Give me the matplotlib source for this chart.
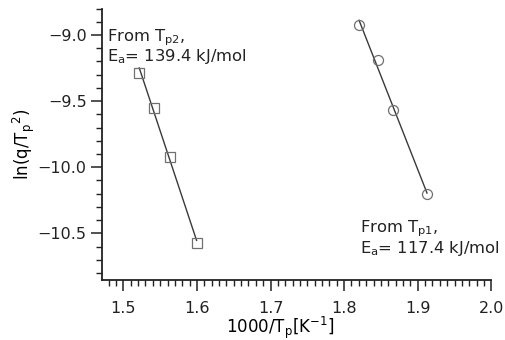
import numpy as np
import matplotlib
matplotlib.use("Agg")
import matplotlib.pyplot as plt
from matplotlib.ticker import MultipleLocator

plt.rcParams['font.family'] = ['DejaVu Sans']
plt.rcParams['mathtext.default'] = 'regular'

# Data
x_tp2 = [1.5216, 1.5415, 1.5635, 1.5995]
y_tp2 = [-9.286, -9.551, -9.922, -10.577]
x_tp1 = [1.8203, 1.8460, 1.8670, 1.9126]
y_tp1 = [-8.927, -9.190, -9.566, -10.205]
label_tp2 = ["From $\\mathregular{T_{p2}}$,", "$\\mathregular{E_a}$= 139.4 kJ/mol"]
label_tp1 = ["From $\\mathregular{T_{p1}}$,", "$\\mathregular{E_a}$= 117.4 kJ/mol"]
xticks = [1.5, 1.6, 1.7, 1.8, 1.9, 2.0]
yticks = [-9.0, -9.5, -10.0, -10.5]

fig = plt.figure(figsize=(5.06, 3.40), dpi=100)
ax = fig.add_axes([0.2016, 0.1765, 0.7694, 0.7985])

line_c = '#3a3a3a'
mk_c = '#707070'
for xs, ys, mk in [(x_tp2, y_tp2, 's'), (x_tp1, y_tp1, 'o')]:
    xs = np.array(xs); ys = np.array(ys)
    p = np.polyfit(xs, ys, 1)
    xl = np.array([xs.min(), xs.max()])
    ax.plot(xl, np.polyval(p, xl), color=line_c, lw=1.0, zorder=2)
    ax.plot(xs, ys, linestyle='none', marker=mk, markersize=7.2,
            markerfacecolor='none', markeredgecolor=mk_c, markeredgewidth=0.9, zorder=3)

ax.set_xlim(1.471, 2.0)
ax.set_ylim(-10.853, -8.8)
ax.set_xticks(xticks)
ax.set_xticklabels([f"{v:.1f}" for v in xticks])
ax.set_yticks(yticks)
ax.set_yticklabels([f"\u2212{abs(v):.1f}" for v in yticks])
ax.xaxis.set_minor_locator(MultipleLocator(0.01))
ax.yaxis.set_minor_locator(MultipleLocator(0.1))
for s in ['top', 'right']:
    ax.spines[s].set_visible(False)
for s in ['left', 'bottom']:
    ax.spines[s].set_linewidth(1.3)
    ax.spines[s].set_color('#222222')
ax.tick_params(which='major', length=8, width=1.1, labelsize=11.5, colors='#222222', pad=3)
ax.tick_params(which='minor', length=4.5, width=1.0, colors='#222222')
ax.tick_params(axis='x', which='major', pad=7)

ax.set_xlabel("1000/$\\mathregular{T_p[K^{-1}]}$", fontsize=12)
ax.xaxis.set_label_coords(0.457, -0.128)
ax.set_ylabel("ln(q/$\\mathregular{T_p{}^2}$)", fontsize=12)
ax.yaxis.set_label_coords(-0.167, 0.5)

kw = dict(transform=ax.transAxes, fontsize=11.8, va='baseline', ha='left', color='#222222')
ax.text(0.014, 0.879, label_tp2[0], **kw)
ax.text(0.014, 0.806, label_tp2[1], **kw)
ax.text(0.663, 0.174, label_tp1[0], **kw)
ax.text(0.663, 0.101, label_tp1[1], **kw)

fig.savefig("out.png", dpi=100)
